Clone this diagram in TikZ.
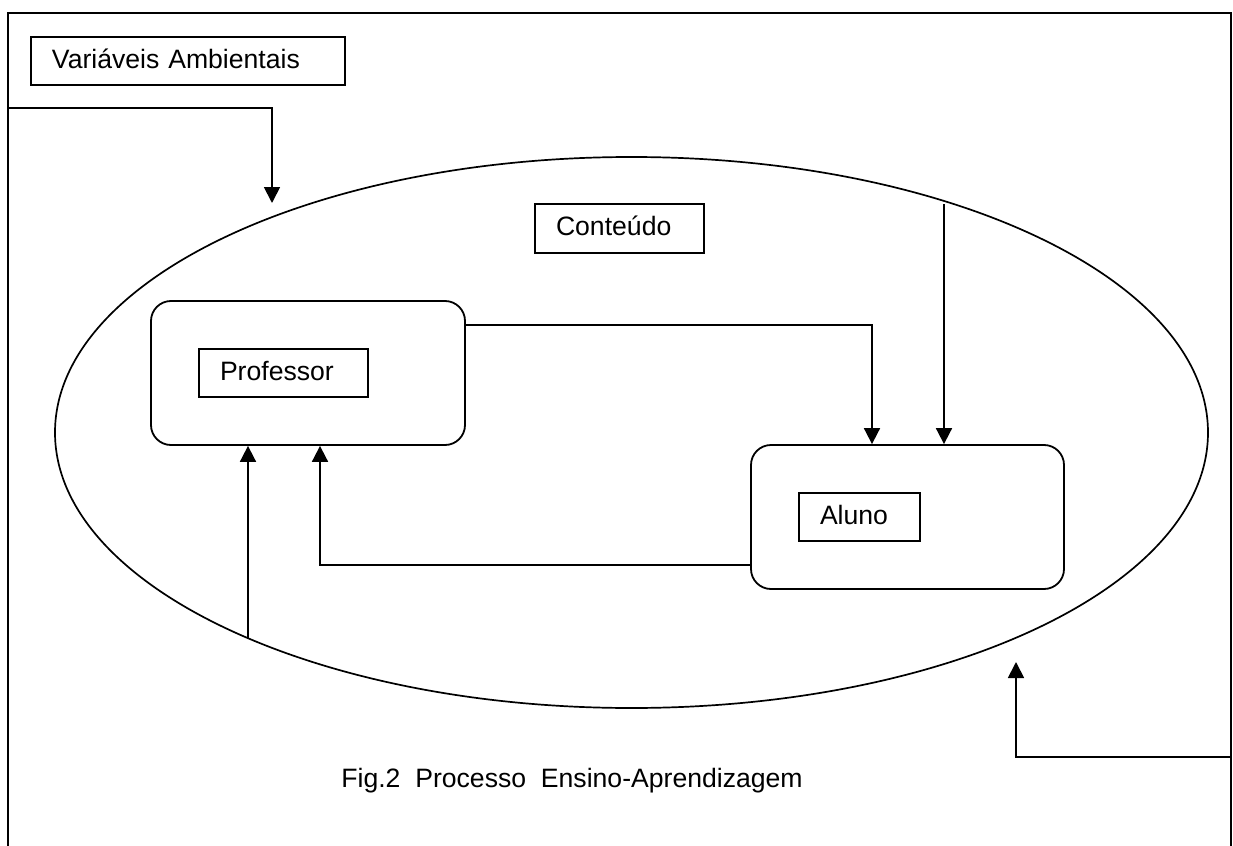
\documentclass[tikz,border=0pt]{standalone}
\usepackage{fontspec}
\setmainfont{Liberation Sans}
\usetikzlibrary{arrows.meta,shapes.geometric}

\begin{document}
% one unit = half a point; y grows downwards
\begin{tikzpicture}[x=0.5pt,y=-0.5pt,
  line join=miter,
  frameline/.style={line width=1.3pt},
  conn/.style={line width=0.9pt},
  arr/.style={conn,-{Triangle[length=8pt,width=8pt]}},
  label box/.style={draw,line width=0.9pt,rectangle,inner xsep=10.5pt,inner ysep=0pt,
    minimum height=24pt,align=left,font=\fontsize{13.3pt}{15pt}\selectfont,
    text height=0.72em,text depth=0pt,anchor=center},
  actor/.style={draw,line width=0.9pt,rectangle,rounded corners=10pt,
    minimum width=157pt,minimum height=72pt,inner sep=0pt},
  env/.style={draw,line width=0.85pt,ellipse,inner sep=0pt,
    minimum width=576.5pt,minimum height=275.5pt},
  caption/.style={font=\fontsize{13.3pt}{15pt}\selectfont,inner sep=0pt,anchor=base west}]

  \useasboundingbox (0,0) rectangle (1233,846);

  % surrounding frame, open at the bottom
  \coordinate (fbl) at (8,846);
  \coordinate (ftl) at (8,13);
  \coordinate (ftr) at (1231,13);
  \coordinate (fbr) at (1231,846);
  \draw[frameline] (fbl) -- (ftl) -- (ftr) -- (fbr);

  % environment ellipse
  \node[env] (amb) at (631.5,432.5) {};

  % labels
  \node[label box,text width=136pt] (var) at (188,61) {Variáveis Ambientais};
  \node[label box,text width=63.5pt,minimum height=24.5pt] (cont) at (619.5,228.5) {Conteúdo};

  % teacher and student
  \node[actor] (prof) at (308,373) {};
  \node[label box,text width=63.5pt] (proflbl) at (283.5,373) {Professor};
  \node[actor,minimum width=156.5pt] (alu) at (907.5,517) {};
  \node[label box,text width=39.5pt] (alulbl) at (859.5,517) {Aluno};

  % caption
  \node[caption] (cap) at (341,787) {Fig.2\ \ Processo\ \ Ensino-Aprendizagem};

  % connection points
  \coordinate (envin) at (8,108);
  \coordinate (envtip) at (272,203);
  \coordinate (topin) at (944,204);
  \coordinate (botin) at (248,638);
  \coordinate (rightin) at (1231,757);
  \coordinate (righttip) at (1016,662);

  % connectors
  \draw[arr] (envin) -| (envtip);
  \draw[arr] (topin) -- (topin |- alu.north);
  \draw[arr] ([yshift=24pt]prof.east) -| ([xshift=-17.75pt]alu.north);
  \draw[arr] ([yshift=-24pt]alu.west) -| ([xshift=6pt]prof.south);
  \draw[arr] (botin) -- (botin |- prof.south);
  \draw[arr] (rightin) -| (righttip);
\end{tikzpicture}
\end{document}
